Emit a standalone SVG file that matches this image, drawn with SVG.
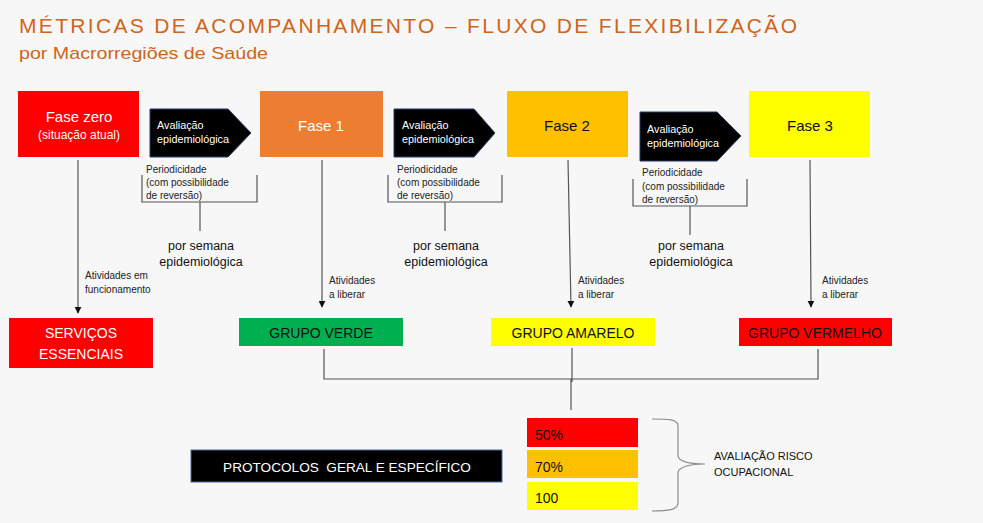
<svg xmlns="http://www.w3.org/2000/svg" width="983" height="523" viewBox="0 0 983 523">
<style>
text{font-family:"Liberation Sans",Arial,sans-serif}
.ttl{fill:#D0641A}
.w{fill:#fff}
.k{fill:#111}
.sm{font-size:10px;fill:#222}
.ev{font-size:10.8px;fill:#fff}
.ps{font-size:12.5px;fill:#111}
.ln{stroke:#8c8c8c;stroke-width:1.2;fill:none}
.lk{stroke:#555;stroke-width:1.2;fill:none}
.arr{fill:#000;stroke:#2a3f66;stroke-width:1}
.c{text-anchor:middle}
</style>
<defs>
<marker id="ah" viewBox="0 0 10 10" refX="9" refY="5" markerWidth="7" markerHeight="7" markerUnits="userSpaceOnUse" orient="auto">
<path d="M0,0L10,5L0,10z" fill="#111"/>
</marker>
</defs>
<rect width="983" height="523" fill="#F7F7F7"/>
<g id="title">
<text class="ttl" x="19" y="33" font-size="21" textLength="778" lengthAdjust="spacing">MÉTRICAS DE ACOMPANHAMENTO – FLUXO DE FLEXIBILIZAÇÃO</text>
<text class="ttl" x="19" y="59" font-size="17" textLength="249" lengthAdjust="spacingAndGlyphs">por Macrorregiões de Saúde</text>
</g>
<g id="connectors">
<line class="lk" x1="78" y1="160" x2="78" y2="313" marker-end="url(#ah)"/>
<line class="lk" x1="322" y1="160" x2="322" y2="307" marker-end="url(#ah)"/>
<line class="lk" x1="568" y1="160" x2="571" y2="307" marker-end="url(#ah)"/>
<line class="lk" x1="810" y1="160" x2="811" y2="307" marker-end="url(#ah)"/>
<path class="lk" d="M142,175V202H257V175M200,202V231"/>
<path class="lk" d="M388,175V202H502V175M445,202V231"/>
<path class="lk" d="M633,179V206H747V179M690,206V235"/>
<path class="lk" d="M324,349V379H818V349M572,348V382M571,379V410"/>
<path class="ln" d="M652,419C668,419 678,419 678,426V455C678,462 690,464 705,464C690,464 678,467 678,473V503C678,510 668,511 652,511"/>
</g>
<g id="fase0">
<rect x="18" y="91" width="121" height="66" fill="#FF0000"/>
<text class="w c" x="79" y="122" font-size="15">Fase zero</text>
<text class="w c" x="79" y="139" font-size="12">(situação atual)</text>
</g>
<g id="aval1">
<path class="arr" d="M150,109H228L251,133L228,157H150z"/>
<text class="ev" x="157" y="129">Avaliação</text>
<text class="ev" x="157" y="143">epidemiológica</text>
</g>
<g id="per1">
<text class="sm" x="146" y="173">Periodicidade</text>
<text class="sm" x="146" y="186">(com possibilidade</text>
<text class="sm" x="146" y="199">de reversão)</text>
<text class="ps c" x="201" y="250">por semana</text>
<text class="ps c" x="201" y="266">epidemiológica</text>
</g>
<g id="fase1">
<rect x="260" y="91" width="123" height="66" fill="#ED7D31"/>
<text class="w c" x="321" y="131" font-size="15">Fase  1</text>
</g>
<g id="aval2">
<path class="arr" d="M394,109H474L495,133L474,157H394z"/>
<text class="ev" x="402" y="129">Avaliação</text>
<text class="ev" x="402" y="143">epidemiológica</text>
</g>
<g id="per2">
<text class="sm" x="397" y="173">Periodicidade</text>
<text class="sm" x="397" y="186">(com possibilidade</text>
<text class="sm" x="397" y="199">de reversão)</text>
<text class="ps c" x="446" y="250">por semana</text>
<text class="ps c" x="446" y="266">epidemiológica</text>
</g>
<g id="fase2">
<rect x="507" y="91" width="121" height="66" fill="#FFC000"/>
<text class="k c" x="567" y="131" font-size="15">Fase 2</text>
</g>
<g id="aval3">
<path class="arr" d="M640,112H717L741,136L717,161H640z"/>
<text class="ev" x="647" y="133">Avaliação</text>
<text class="ev" x="647" y="147">epidemiológica</text>
</g>
<g id="per3">
<text class="sm" x="642" y="176">Periodicidade</text>
<text class="sm" x="642" y="190">(com possibilidade</text>
<text class="sm" x="642" y="203">de reversão)</text>
<text class="ps c" x="691" y="250">por semana</text>
<text class="ps c" x="691" y="266">epidemiológica</text>
</g>
<g id="fase3">
<rect x="749" y="91" width="121" height="66" fill="#FFFF00"/>
<text class="k c" x="810" y="131" font-size="15">Fase 3</text>
</g>
<g id="lbl">
<text class="sm" x="85" y="279">Atividades em</text>
<text class="sm" x="85" y="293">funcionamento</text>
<text class="sm" x="329" y="284">Atividades</text>
<text class="sm" x="329" y="298">a liberar</text>
<text class="sm" x="578" y="284">Atividades</text>
<text class="sm" x="578" y="298">a liberar</text>
<text class="sm" x="822" y="284">Atividades</text>
<text class="sm" x="822" y="298">a liberar</text>
</g>
<g id="servicos">
<rect x="9" y="318" width="144" height="50" fill="#FF0000"/>
<text class="w c" x="81" y="338" font-size="14">SERVIÇOS</text>
<text class="w c" x="81" y="359" font-size="14">ESSENCIAIS</text>
</g>
<g id="verde">
<rect x="239" y="318" width="164" height="28" fill="#00B050"/>
<text class="k c" x="321" y="338" font-size="14">GRUPO VERDE</text>
</g>
<g id="amarelo">
<rect x="491" y="318" width="164" height="28" fill="#FFFF00"/>
<text class="k c" x="573" y="338" font-size="14">GRUPO AMARELO</text>
</g>
<g id="vermelho">
<rect x="739" y="318" width="153" height="28" fill="#FF0000"/>
<text class="k c" x="815" y="338" font-size="14">GRUPO VERMELHO</text>
</g>
<g id="protocolos">
<rect x="191" y="450" width="311" height="32" fill="#000" stroke="#4a6aa0" stroke-width="1"/>
<text class="w c" x="347" y="472" font-size="13.6" xml:space="preserve">PROTOCOLOS  GERAL E ESPECÍFICO</text>
</g>
<g id="p50">
<rect x="527" y="418" width="111" height="29" fill="#FF0000"/>
<text class="k" x="535" y="440" font-size="14">50%</text>
</g>
<g id="p70">
<rect x="527" y="450" width="111" height="28" fill="#FFC000"/>
<text class="k" x="535" y="472" font-size="14">70%</text>
</g>
<g id="p100">
<rect x="527" y="482" width="111" height="28" fill="#FFFF00"/>
<text class="k" x="535" y="503" font-size="14">100</text>
</g>
<g id="risco">
<text class="k" x="714" y="460" font-size="11">AVALIAÇÃO RISCO</text>
<text class="k" x="714" y="476" font-size="11">OCUPACIONAL</text>
</g>
</svg>
